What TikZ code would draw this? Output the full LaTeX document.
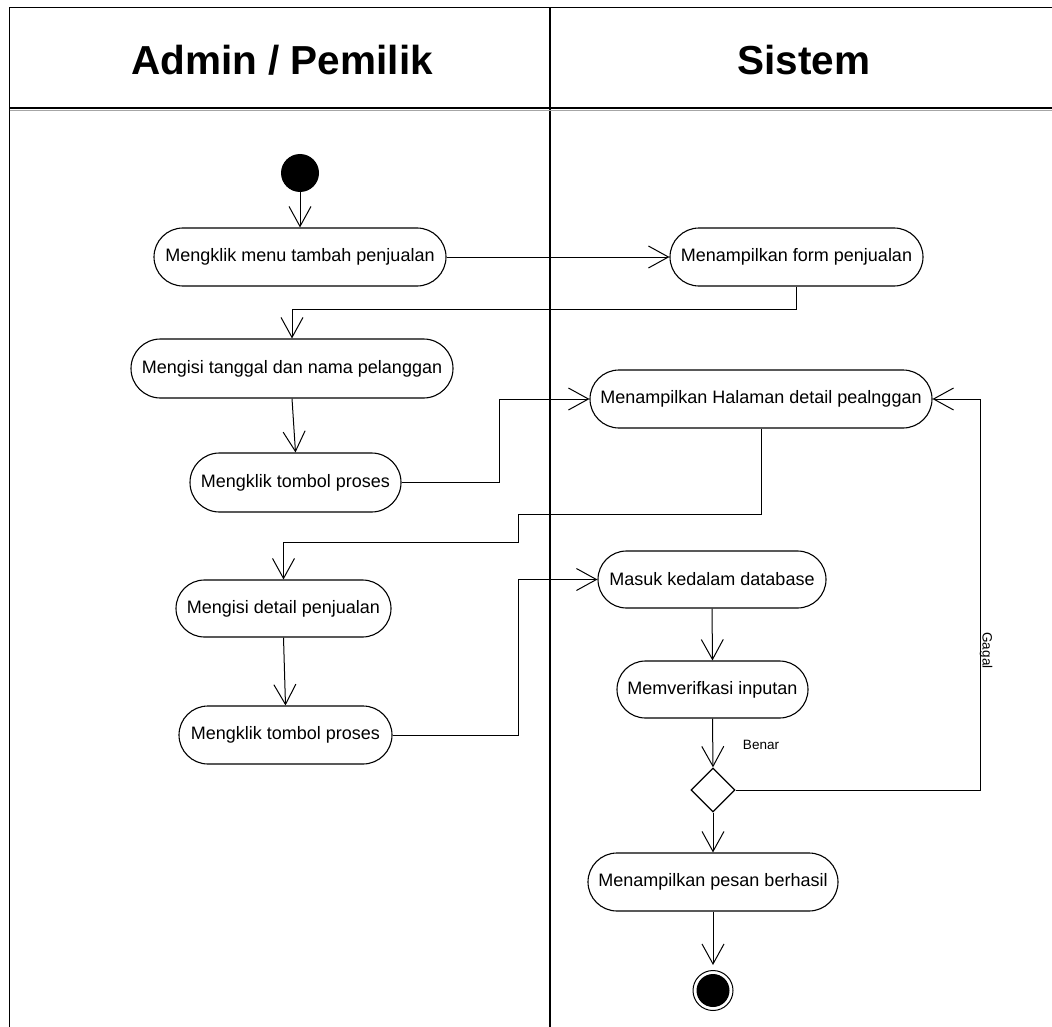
\documentclass[tikz,border=0pt]{standalone}
\usepackage{fontspec}
\setmainfont{Liberation Sans}
\usetikzlibrary{arrows.meta,shapes.geometric,shapes.misc}
\begin{document}
\begin{tikzpicture}[x=1pt,y=-1pt,
  activity/.style={draw,rounded rectangle,line width=1.1pt,inner sep=0pt,
    minimum height=58pt,font=\fontsize{18}{21}\selectfont},
  flow/.style={line width=1pt,-{Straight Barb[length=20pt,width=22pt,line width=1pt]}},
  lane/.style={line width=1.5pt},
  header/.style={font=\bfseries\fontsize{40.5}{46}\selectfont},
  guard/.style={font=\fontsize{13.5}{16}\selectfont},
  decision/.style={draw,diamond,aspect=1,line width=1.3pt,inner sep=0pt,
    minimum width=44pt,minimum height=44pt}]
\useasboundingbox (0,0) rectangle (1052,1027);
\clip (0,0) rectangle (1052,1027);

% swimlane frame
\draw[lane] (9.5,1040) -- (9.5,7.5) -- (1070,7.5);
\draw[lane] (550,7.5) -- (550,1040);
\draw[lane] (9.5,108) -- (1070,108);
\draw[gray!70,line width=1pt] (9.5,110.5) -- (1070,110.5);
\node[header] (hAdmin) at (282,60) {Admin / Pemilik};
\node[header] (hSistem) at (804,60) {Sistem};

% initial and final states
\node[circle,fill=black,minimum size=38pt,inner sep=0pt] (start) at (300,173) {};
\node[circle,draw,line width=1pt,minimum size=40pt,inner sep=0pt] (finish) at (713,990.5) {};
\node[circle,fill=black,minimum size=33pt,inner sep=0pt] (finishDot) at (713,990.5) {};

% activities
\node[activity,minimum width=292pt] (a1) at (300,257) {Mengklik menu tambah penjualan};
\node[activity,minimum width=253pt] (s1) at (796.5,257) {Menampilkan form penjualan};
\node[activity,minimum width=322pt,minimum height=59pt] (a2) at (292,368.5) {Mengisi tanggal dan nama pelanggan};
\node[activity,minimum width=342pt] (s2) at (761,399) {Menampilkan Halaman detail pealnggan};
\node[activity,minimum width=211pt,minimum height=59pt] (a3) at (295.5,482.5) {Mengklik tombol proses};
\node[activity,minimum width=215pt,minimum height=57pt] (a4) at (283.5,608.5) {Mengisi detail penjualan};
\node[activity,minimum width=228pt,minimum height=57pt] (s3) at (712,579.5) {Masuk kedalam database};
\node[activity,minimum width=191pt,minimum height=57pt] (s4) at (712.5,689.5) {Memverifkasi inputan};
\node[activity,minimum width=213pt] (a5) at (285.5,735) {Mengklik tombol proses};
\node[decision] (d) at (713,790) {};
\node[activity,minimum width=250pt] (s5) at (713,882) {Menampilkan pesan berhasil};

% routing points
\coordinate (p1) at (796.5,309);
\coordinate (p2) at (292,309);
\coordinate (p3) at (499,482.5);
\coordinate (p4) at (499,399);
\coordinate (p5) at (761,514);
\coordinate (p6) at (518,514);
\coordinate (p7) at (518,542);
\coordinate (p8) at (283.5,542);
\coordinate (p9) at (518,735);
\coordinate (p10) at (518,579.5);
\coordinate (p11) at (980,790);
\coordinate (p12) at (980,399);

% control flows
\draw[flow] (start) -- (a1);
\draw[flow] (a1.east) -- (s1.west);
\draw[flow] (s1.south) -- (p1) -- (p2) -- (a2.north);
\draw[flow] (a2.south) -- (a3.north);
\draw[flow] (a3.east) -- (p3) -- (p4) -- (s2.west);
\draw[flow] (s2.south) -- (p5) -- (p6) -- (p7) -- (p8) -- (a4.north);
\draw[flow] (a4.south) -- (a5.north);
\draw[flow] (a5.east) -- (p9) -- (p10) -- (s3.west);
\draw[flow] (s3.south) -- (s4.north);
\draw[flow] (s4.south) -- (d.north);
\draw[flow] (d.east) -- (p11) -- (p12) -- (s2.east);
\draw[flow] (d.south) -- (s5.north);
\draw[flow,shorten >=5pt] (s5.south) -- (finish.north);

% guards
\node[guard] (benar) at (761,745) {Benar};
\node[guard,rotate=-90,anchor=base,inner sep=0pt] (gagal) at (982.5,650.5) {Gagal};
\end{tikzpicture}
\end{document}
